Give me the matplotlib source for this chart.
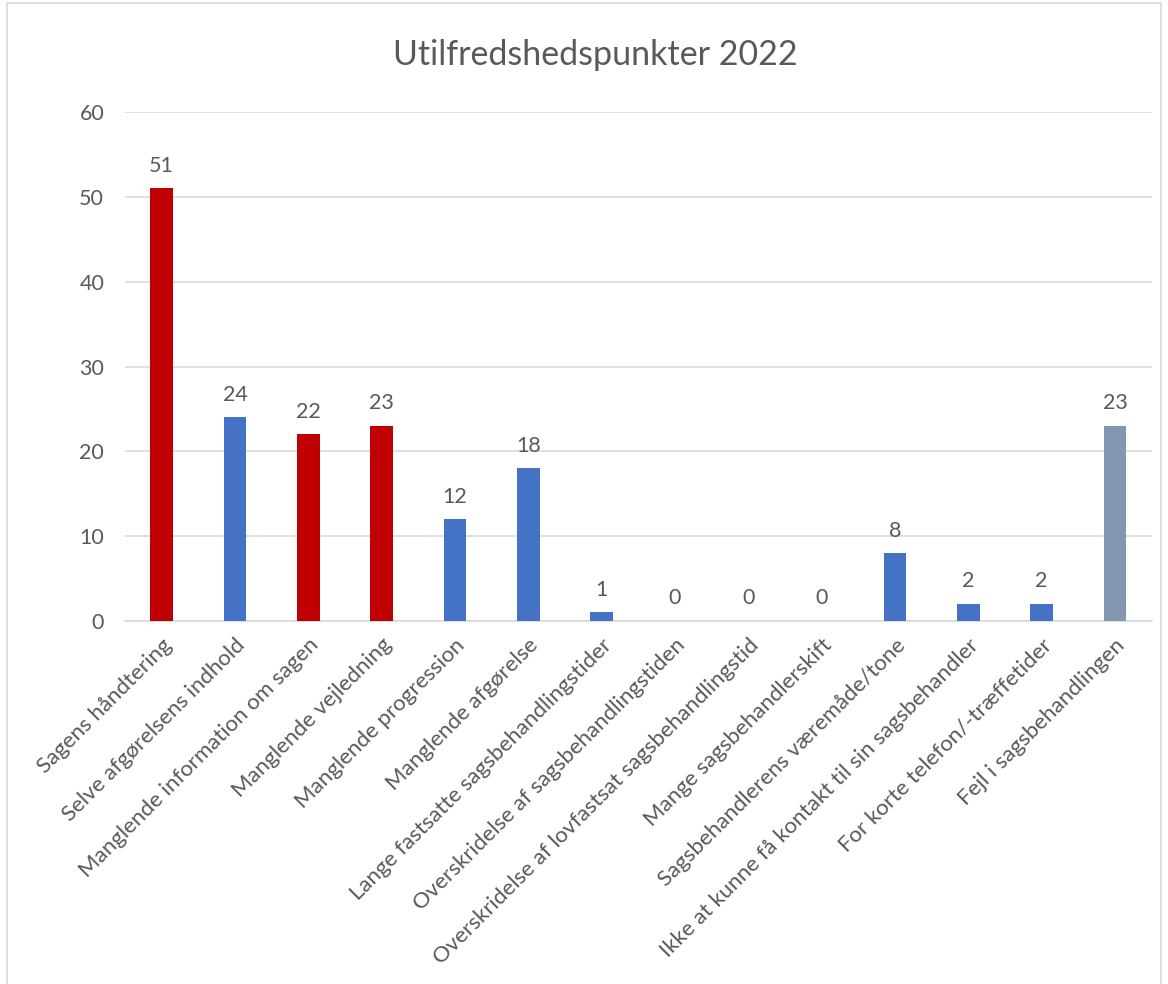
import matplotlib.pyplot as plt
from matplotlib.patches import Rectangle

plt.rcParams['font.family'] = ['Lato', 'DejaVu Sans']

# data
categories = ['Sagens håndtering', 'Selve afgørelsens indhold',
              'Manglende information om sagen', 'Manglende vejledning',
              'Manglende progression', 'Manglende afgørelse',
              'Lange fastsatte sagsbehandlingstider',
              'Overskridelse af sagsbehandlingstiden',
              'Overskridelse af lovfastsat sagsbehandlingstid',
              'Mange sagsbehandlerskift', 'Sagsbehandlerens væremåde/tone',
              'Ikke at kunne få kontakt til sin sagsbehandler',
              'For korte telefon/-træffetider', 'Fejl i sagsbehandlingen']
values = [51, 24, 22, 23, 12, 18, 1, 0, 0, 0, 8, 2, 2, 23]
groups = ['red', 'blue', 'red', 'red', 'blue', 'blue', 'blue', 'blue',
          'blue', 'blue', 'blue', 'blue', 'blue', 'gray']

palette = {'red': '#C00000', 'blue': '#4472C4', 'gray': '#8497B0'}
txt = '#595959'

fig = plt.figure(figsize=(11.68, 9.84), dpi=100)
fig.patches.append(Rectangle((0.006, -0.01), 0.988, 1.007, transform=fig.transFigure,
                             fill=False, edgecolor='#D9D9D9', linewidth=1.2))
ax = fig.add_axes([0.107, 0.369, 0.879, 0.517])

x = range(len(values))
bars = ax.bar(x, values, width=0.31, color=[palette[g] for g in groups], zorder=3)
for b, v in zip(bars, values):
    ax.annotate(str(v), (b.get_x() + b.get_width() / 2, v), xytext=(0, 9),
                textcoords='offset points', ha='center', va='bottom',
                fontsize=15.5, color=txt)

ax.set_xlim(-0.5, len(values) - 0.5)
ax.set_ylim(0, 60)
ax.set_yticks(range(0, 61, 10))
ax.grid(axis='y', color='#D9D9D9', linewidth=1.2, zorder=0)
for s in ['top', 'right', 'left']:
    ax.spines[s].set_visible(False)
ax.spines['bottom'].set_color('#D9D9D9')
ax.spines['bottom'].set_linewidth(1.2)
ax.tick_params(length=0, labelsize=15.5, labelcolor=txt)
ax.tick_params(axis='y', pad=15)
ax.set_xticks(list(x))
ax.set_xticklabels(categories, rotation=45, ha='right', rotation_mode='anchor',
                   fontsize=16)
ax.tick_params(axis='x', pad=10)

fig.text(0.51, 0.944, 'Utilfredshedspunkter 2022', ha='center', va='center',
         fontsize=24.5, color=txt)

fig.savefig('out.png', dpi=100)
